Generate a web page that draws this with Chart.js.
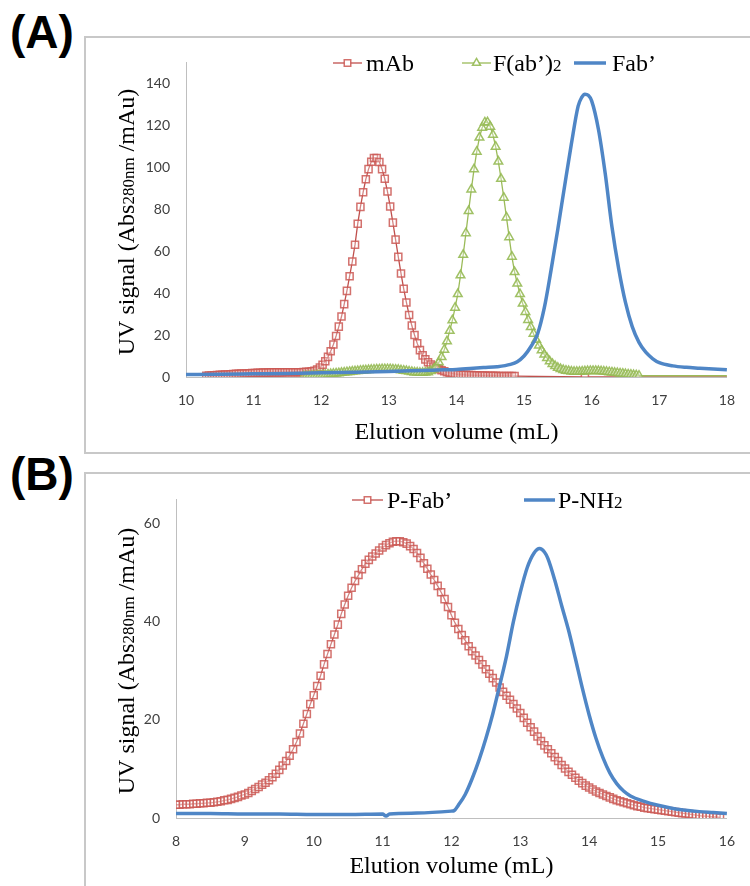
<!DOCTYPE html>
<html><head><meta charset="utf-8">
<script src="https://cdn.jsdelivr.net/npm/chart.js@4.4.1/dist/chart.umd.min.js"></script>
<style>
html,body{margin:0;padding:0;background:#fff;}
#wrap{position:relative;width:750px;height:886px;overflow:hidden;background:#fff;}
.frame{position:absolute;box-sizing:border-box;border:2px solid #c8c8c8;}
#frameA{left:84px;top:36px;width:800px;height:418px;}
#frameB{left:84px;top:472px;width:800px;height:500px;}
.lab{position:absolute;left:10px;font:bold 46px "Liberation Sans",Arial,sans-serif;line-height:46px;color:#000;}
canvas{position:absolute;left:0;}
</style></head>
<body><div id="wrap">
<div class="frame" id="frameA"></div>
<div class="frame" id="frameB"></div>
<div class="lab" style="top:9px">(A)</div>
<div class="lab" style="top:451px">(B)</div>
<canvas id="cA" width="750" height="460" style="top:0"></canvas>
<canvas id="cB" width="750" height="426" style="top:460px"></canvas>
</div>
<script>
// ---------- Panel A data ----------
const seriesA = ["mAb", "F(ab’)2", "Fab’"];
const xTicksA = [10, 11, 12, 13, 14, 15, 16, 17, 18];
const yTicksA = [0, 20, 40, 60, 80, 100, 120, 140];

const mabVol = [
10.30,10.34,10.38,10.42,10.46,10.50,10.54,10.58,10.62,10.66,
10.70,10.74,10.78,10.82,10.86,10.90,10.94,10.98,11.02,11.06,
11.10,11.14,11.18,11.22,11.26,11.30,11.34,11.38,11.42,11.46,
11.50,11.54,11.58,11.62,11.66,11.70,11.74,11.78,11.82,11.86,
11.90,11.94,11.98,12.02,12.06,12.10,12.14,12.18,12.22,12.26,
12.30,12.34,12.38,12.42,12.46,12.50,12.54,12.58,12.62,12.66,
12.70,12.74,12.78,12.82,12.86,12.90,12.94,12.98,13.02,13.06,
13.10,13.14,13.18,13.22,13.26,13.30,13.34,13.38,13.42,13.46,
13.50,13.54,13.58,13.62,13.66,13.70,13.74,13.78,13.82,13.86,
13.90,13.94,13.98,14.02,14.06,14.10,14.14,14.18,14.22,14.26,
14.30,14.34,14.38,14.42,14.46,14.50,14.54,14.58,14.62,14.66,
14.70,14.74,14.78,14.82,14.86,15.90,18.00];
const mabSignal = [
0.6,0.7,0.7,0.8,0.9,1.0,1.1,1.2,1.2,1.3,
1.4,1.5,1.5,1.6,1.7,1.7,1.8,1.9,1.9,2.0,
2.0,2.1,2.1,2.1,2.2,2.2,2.2,2.2,2.2,2.3,
2.3,2.3,2.3,2.3,2.3,2.3,2.4,2.5,2.5,2.7,
3.0,3.6,4.5,5.8,7.5,9.6,12.3,15.5,19.5,24.0,
28.8,34.7,41.0,48.0,55.0,63.0,73.0,81.0,88.0,94.2,
99.0,102.5,104.3,104.3,102.4,99.0,94.4,88.3,81.2,73.5,
65.4,57.2,49.3,42.0,35.5,29.5,24.5,20.0,16.0,12.8,
10.3,8.4,7.0,5.9,5.0,4.3,3.7,3.2,2.7,2.3,
2.0,1.7,1.5,1.3,1.2,1.1,1.0,0.9,0.9,0.8,
0.8,0.7,0.7,0.7,0.6,0.6,0.6,0.6,0.5,0.5,
0.5,0.5,0.5,0.4,0.4,0.0,0.0];

const f2Vol = [
11.74,11.78,11.82,11.86,11.90,11.94,11.98,12.02,12.06,12.10,
12.14,12.18,12.22,12.26,12.30,12.34,12.38,12.42,12.46,12.50,
12.54,12.58,12.62,12.66,12.70,12.74,12.78,12.82,12.86,12.90,
12.94,12.98,13.02,13.06,13.10,13.14,13.18,13.22,13.26,13.30,
13.34,13.38,13.42,13.46,13.50,13.54,13.58,13.62,13.66,13.70,
13.74,13.78,13.82,13.86,13.90,13.94,13.98,14.02,14.06,14.10,
14.14,14.18,14.22,14.26,14.30,14.34,14.38,14.42,14.46,14.50,
14.54,14.58,14.62,14.66,14.70,14.74,14.78,14.82,14.86,14.90,
14.94,14.98,15.02,15.06,15.10,15.14,15.18,15.22,15.26,15.30,
15.34,15.38,15.42,15.46,15.50,15.54,15.58,15.62,15.66,15.70,
15.74,15.78,15.82,15.86,15.90,15.94,15.98,16.02,16.06,16.10,
16.14,16.18,16.22,16.26,16.30,16.34,16.38,16.42,16.46,16.50,
16.54,16.58,16.62,16.66,16.70,18.00];
const f2Signal = [
0.3,0.4,0.5,0.6,0.7,0.8,0.9,1.0,1.1,1.2,
1.4,1.5,1.7,1.8,2.0,2.1,2.3,2.4,2.6,2.7,
2.8,3.0,3.1,3.2,3.3,3.4,3.5,3.6,3.6,3.7,
3.7,3.7,3.7,3.6,3.5,3.4,3.2,3.0,2.8,2.6,
2.4,2.2,2.1,2.0,2.0,2.1,2.3,2.8,3.6,5.0,
7.0,9.5,13.0,17.0,22.0,27.0,33.0,39.5,48.4,58.2,
68.5,79.0,89.3,98.9,107.3,114.0,118.7,121.2,121.3,119.2,
115.3,109.7,102.6,94.4,85.4,76.0,66.6,57.3,50.0,44.5,
39.5,35.0,31.0,27.2,23.8,20.6,17.7,15.0,12.7,10.7,
9.0,7.5,6.2,5.2,4.4,3.8,3.3,3.0,2.8,2.6,
2.5,2.5,2.5,2.6,2.7,2.8,2.9,2.9,2.9,2.8,
2.7,2.6,2.5,2.3,2.2,2.0,1.9,1.7,1.6,1.4,
1.2,1.1,0.9,0.8,0.6,0.6];

const fabVol = [10.0,10.5,11.0,11.5,12.0,12.5,13.0,13.5,13.8,14.0,
14.2,14.4,14.6,14.8,14.9,15.0,15.1,15.2,15.3,15.4,
15.5,15.6,15.7,15.8,15.85,15.9,15.95,16.0,16.1,16.2,
16.3,16.4,16.5,16.6,16.7,16.8,16.9,17.0,17.2,17.4,
17.6,17.8,18.0];
const fabSignal = [1.2,1.3,1.5,1.7,2.0,2.3,2.6,3.1,3.4,3.6,
4.0,4.5,4.9,6.0,7.3,10.0,14.4,20.5,33,51,
70.5,91,111,129,133,134.7,134.2,131.5,118,97,
71.5,51.5,35.5,24,16.5,11.8,8.8,6.8,5.3,4.6,
4.2,3.8,3.4];

// ---------- Panel B data ----------
const seriesB = ["P-Fab’", "P-NH2"];
const xTicksB = [8, 9, 10, 11, 12, 13, 14, 15, 16];
const yTicksB = [0, 20, 40, 60];

const pFabVol = [
8.00,8.05,8.10,8.15,8.20,8.25,8.30,8.35,8.40,8.45,
8.50,8.55,8.60,8.65,8.70,8.75,8.80,8.85,8.90,8.95,
9.00,9.05,9.10,9.15,9.20,9.25,9.30,9.35,9.40,9.45,
9.50,9.55,9.60,9.65,9.70,9.75,9.80,9.85,9.90,9.95,
10.00,10.05,10.10,10.15,10.20,10.25,10.30,10.35,10.40,10.45,
10.50,10.55,10.60,10.65,10.70,10.75,10.80,10.85,10.90,10.95,
11.00,11.05,11.10,11.15,11.20,11.25,11.30,11.35,11.40,11.45,
11.50,11.55,11.60,11.65,11.70,11.75,11.80,11.85,11.90,11.95,
12.00,12.05,12.10,12.15,12.20,12.25,12.30,12.35,12.40,12.45,
12.50,12.55,12.60,12.65,12.70,12.75,12.80,12.85,12.90,12.95,
13.00,13.05,13.10,13.15,13.20,13.25,13.30,13.35,13.40,13.45,
13.50,13.55,13.60,13.65,13.70,13.75,13.80,13.85,13.90,13.95,
14.00,14.05,14.10,14.15,14.20,14.25,14.30,14.35,14.40,14.45,
14.50,14.55,14.60,14.65,14.70,14.75,14.80,14.85,14.90,14.95,
15.00,15.05,15.10,15.15,15.20,15.25,15.30,15.35,15.40,15.45,
15.50,15.55,15.60,15.65,15.70,15.75,15.80,15.85,15.90];
const pFabSignal = [
2.7,2.7,2.8,2.8,2.8,2.9,2.9,3.0,3.0,3.1,
3.1,3.2,3.3,3.4,3.6,3.7,3.9,4.1,4.3,4.6,
4.8,5.1,5.5,5.9,6.3,6.8,7.2,7.7,8.3,9.0,
9.8,10.7,11.6,12.7,14.0,15.5,17.2,19.2,21.2,23.2,
25.0,26.9,29.0,31.3,33.4,35.4,37.4,39.4,41.6,43.5,
45.3,46.9,48.3,49.5,50.7,51.8,52.6,53.3,53.9,54.5,
55.1,55.6,56.0,56.3,56.4,56.4,56.2,55.9,55.4,54.8,
54.0,53.0,51.9,50.8,49.6,48.5,47.3,46.0,44.6,43.0,
41.3,39.8,38.5,37.3,36.2,35.0,34.0,33.1,32.2,31.3,
30.3,29.4,28.5,27.6,26.6,25.7,24.9,24.1,23.2,22.3,
21.4,20.4,19.4,18.5,17.6,16.6,15.7,14.8,14.0,13.2,
12.4,11.6,10.8,10.1,9.4,8.8,8.2,7.6,7.1,6.6,
6.2,5.8,5.4,5.1,4.8,4.5,4.2,3.9,3.6,3.4,
3.2,3.0,2.8,2.6,2.4,2.3,2.1,2.0,1.9,1.8,
1.7,1.6,1.5,1.4,1.3,1.2,1.1,1.0,0.9,0.8,
0.7,0.6,0.5,0.4,0.4,0.3,0.2,0.2,0.1];

const pNH2Vol = [8.0,8.5,9.0,9.5,10.0,10.5,11.0,11.05,11.1,11.5,
12.0,12.04,12.1,12.2,12.3,12.4,12.5,12.6,12.7,12.8,
12.9,13.0,13.1,13.2,13.28,13.35,13.4,13.5,13.6,13.7,
13.8,13.9,14.0,14.1,14.2,14.3,14.4,14.5,14.6,14.8,
15.0,15.2,15.4,15.6,15.8,16.0];
const pNH2Signal = [0.9,0.9,0.8,0.8,0.7,0.7,0.8,0.4,0.8,1.0,
1.4,1.5,2.6,4.8,8.0,11.8,16.2,21.2,27,33,
40,46,51,54,54.9,54.2,52.9,48.5,43.3,38.3,
32.5,26.5,21,16.2,12.3,9.2,7.0,5.5,4.5,3.4,
2.6,2.0,1.6,1.3,1.1,0.9];

// ---------- helpers ----------
const zip = (xs, ys) => xs.map((x, i) => ({x: x, y: ys[i]}));
const SERIF = "'Liberation Serif','Times New Roman',serif";
const TICKFONT = {family: "Lato, 'Open Sans', sans-serif", size: 14};
const RED = '#C0504D', REDMK = 'rgba(203,88,84,0.85)';
const GREEN = '#9BBB59', GREENMK = 'rgba(150,186,84,0.9)';
const BLUE = '#4F86C6';

function splitSub(label, big, small) {
  // trailing digit(s) rendered smaller, on the baseline
  const m = label.match(/^(.*?)(\d+)$/);
  if (!m) return [{text: label, font: big}];
  return [{text: m[1], font: big}, {text: m[2], font: small}];
}

const richText = {
  id: 'richText',
  afterDraw(chart, args, o) {
    const ctx = chart.ctx;
    const widthOf = runs => runs.reduce((w, r) => { ctx.font = r.font; return w + ctx.measureText(r.text).width; }, 0);
    const drawRuns = (runs, x, y) => { let cx = x; runs.forEach(r => { ctx.font = r.font; ctx.fillText(r.text, cx, y); cx += ctx.measureText(r.text).width; }); };
    ctx.save();
    ctx.fillStyle = '#000'; ctx.textBaseline = 'alphabetic'; ctx.textAlign = 'left';
    if (o.yTitle) {
      ctx.save();
      ctx.translate(o.yTitle.x, o.yTitle.y);
      ctx.rotate(-Math.PI / 2);
      const w = widthOf(o.yTitle.runs);
      drawRuns(o.yTitle.runs, -w / 2, 0);
      ctx.restore();
    }
    (o.items || []).forEach(it => {
      const ds = chart.data.datasets[it.index];
      ctx.save();
      ctx.strokeStyle = ds.borderColor; ctx.lineWidth = ds.borderWidth;
      ctx.beginPath(); ctx.moveTo(it.x1, it.y); ctx.lineTo(it.x2, it.y); ctx.stroke();
      const cx = (it.x1 + it.x2) / 2, r = ds.legendRadius || 0;
      if (r > 0) {
        ctx.strokeStyle = ds.pointBorderColor; ctx.lineWidth = ds.pointBorderWidth;
        ctx.fillStyle = '#fff';
        ctx.beginPath();
        if (ds.pointStyle === 'rect') {
          const s = r * Math.SQRT1_2; ctx.rect(cx - s, it.y - s, 2 * s, 2 * s);
        } else {
          let a = 0;
          ctx.moveTo(cx + Math.sin(a) * r, it.y - Math.cos(a) * r);
          a += 2 * Math.PI / 3; ctx.lineTo(cx + Math.sin(a) * r, it.y - Math.cos(a) * r);
          a += 2 * Math.PI / 3; ctx.lineTo(cx + Math.sin(a) * r, it.y - Math.cos(a) * r);
          ctx.closePath();
        }
        ctx.fill(); ctx.stroke();
      }
      ctx.restore();
      ctx.fillStyle = '#000';
      drawRuns(it.runs, it.tx, it.ty);
    });
    ctx.restore();
  }
};

function markerRadius(r, n) { return c => (c.dataIndex === n - 1 ? 0 : r); }

function makeScales(xMin, xMax, yMin, yMax, yWidth, xHeight, titlePadBottom, xTicks, yTicks) {
  return {
    x: {
      type: 'linear', min: xMin, max: xMax,
      afterBuildTicks: s => { s.ticks = xTicks.map(v => ({value: v})); },
      ticks: {font: TICKFONT, color: '#404040', padding: 15, maxRotation: 0, autoSkip: false},
      grid: {display: false, drawTicks: false},
      border: {display: true, color: '#bfbfbf', width: 1},
      title: {display: true, text: 'Elution volume (mL)', color: '#000',
        font: {family: SERIF, size: 24}, padding: {top: 0, bottom: titlePadBottom}},
      afterFit: s => { s.height = xHeight; }
    },
    y: {
      type: 'linear', min: yMin, max: yMax,
      afterBuildTicks: s => { s.ticks = yTicks.map(v => ({value: v})); },
      ticks: {font: TICKFONT, color: '#404040', padding: 16},
      grid: {display: false, drawTicks: false},
      border: {display: true, color: '#bfbfbf', width: 1},
      afterFit: s => { s.width = yWidth; }
    }
  };
}

const big = "24px " + SERIF, small = "17px " + SERIF;
const yTitleRuns = [{text: 'UV signal (Abs', font: big}, {text: '280nm', font: small}, {text: ' /mAu)', font: big}];

// ---------- Chart A ----------
new Chart(document.getElementById('cA'), {
  type: 'line',
  data: {datasets: [
    {label: seriesA[2], data: zip(fabVol, fabSignal), borderColor: BLUE, borderWidth: 3.5,
     pointRadius: 0, cubicInterpolationMode: 'monotone', order: 0},
    {label: seriesA[1], data: zip(f2Vol, f2Signal), borderColor: GREEN, borderWidth: 1.3, tension: 0,
     pointStyle: 'triangle', pointRadius: markerRadius(5, f2Vol.length), legendRadius: 4.6,
     pointBorderColor: GREENMK, pointBackgroundColor: 'rgba(255,255,255,0.3)', pointBorderWidth: 1.5, order: 1},
    {label: seriesA[0], data: zip(mabVol, mabSignal), borderColor: RED, borderWidth: 1.3, tension: 0,
     pointStyle: 'rect', pointRadius: markerRadius(5, mabVol.length), legendRadius: 4.6,
     pointBorderColor: REDMK, pointBackgroundColor: 'rgba(255,255,255,0.3)', pointBorderWidth: 1.5, order: 2}
  ]},
  options: {
    responsive: false, animation: false, devicePixelRatio: 1, events: [],
    layout: {padding: {top: 62, right: 19, left: 0, bottom: 0}},
    scales: makeScales(10, 18, 0, 150, 186, 83, 13, xTicksA, yTicksA),
    plugins: {
      legend: {display: false}, tooltip: {enabled: false},
      richText: {
        yTitle: {x: 134, y: 222, runs: yTitleRuns},
        items: [
          {index: 2, x1: 333, x2: 362, y: 63, tx: 366, ty: 71, runs: splitSub(seriesA[0], big, small)},
          {index: 1, x1: 462, x2: 491, y: 63, tx: 493, ty: 71, runs: splitSub(seriesA[1], big, small)},
          {index: 0, x1: 574, x2: 606, y: 63, tx: 612, ty: 71, runs: splitSub(seriesA[2], big, small)}
        ]
      }
    }
  },
  plugins: [richText]
});

// ---------- Chart B ----------
new Chart(document.getElementById('cB'), {
  type: 'line',
  data: {datasets: [
    {label: seriesB[1], data: zip(pNH2Vol, pNH2Signal), borderColor: BLUE, borderWidth: 3.5,
     pointRadius: 0, cubicInterpolationMode: 'monotone', order: 0},
    {label: seriesB[0], data: zip(pFabVol, pFabSignal), borderColor: RED, borderWidth: 1.3, tension: 0,
     pointStyle: 'rect', pointRadius: 5, legendRadius: 4.6,
     pointBorderColor: REDMK, pointBackgroundColor: 'rgba(255,255,255,0.3)', pointBorderWidth: 1.5, order: 1}
  ]},
  options: {
    responsive: false, animation: false, devicePixelRatio: 1, events: [],
    layout: {padding: {top: 39, right: 19, left: 0, bottom: 0}},
    scales: makeScales(8, 16, 0, 65, 176, 68, 5, xTicksB, yTicksB),
    plugins: {
      legend: {display: false}, tooltip: {enabled: false},
      richText: {
        yTitle: {x: 134, y: 201, runs: yTitleRuns},
        items: [
          {index: 1, x1: 352, x2: 383, y: 40, tx: 387, ty: 48, runs: splitSub(seriesB[0], big, small)},
          {index: 0, x1: 524, x2: 555, y: 40, tx: 558, ty: 48, runs: splitSub(seriesB[1], big, small)}
        ]
      }
    }
  },
  plugins: [richText]
});
</script>
</body></html>
